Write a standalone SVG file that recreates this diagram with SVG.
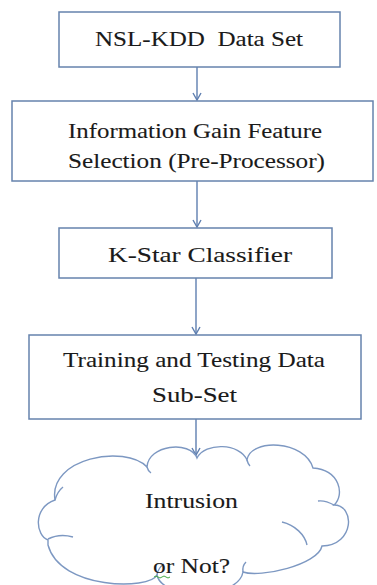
<svg xmlns="http://www.w3.org/2000/svg" width="377" height="585" viewBox="0 0 377 585" font-family="Liberation Serif, serif">
<defs>
<style>
.box{fill:#ffffff;stroke:#6683ad;stroke-width:1.5}
.lbl{font-family:'Liberation Serif',serif;font-size:22px;fill:#1a1a1a;stroke:#1a1a1a;stroke-width:0.1}
.c{stroke:#5f7fb0;stroke-width:1.4;fill:none}
.cloud{fill:#ffffff;stroke:#7d98c2;stroke-width:1.4}
.inner{fill:none;stroke:#7d98c2;stroke-width:1.4}
</style>
<marker id="ah" markerWidth="10" markerHeight="10" refX="8" refY="5" orient="auto" markerUnits="userSpaceOnUse">
<path d="M1,1 L8,5 L1,9" fill="none" stroke="#5f7fb0" stroke-width="1.4"/>
</marker>
</defs>
<rect width="377" height="585" fill="#ffffff"/>
<g id="connectors">
<line class="c" x1="197" y1="67" x2="197" y2="100" marker-end="url(#ah)"/>
<line class="c" x1="197" y1="181" x2="197" y2="227" marker-end="url(#ah)"/>
<line class="c" x1="196" y1="278" x2="196" y2="334" marker-end="url(#ah)"/>
<line class="c" x1="196" y1="419" x2="196" y2="455" marker-end="url(#ah)"/>
</g>
<g id="node1">
<rect class="box" x="59" y="12" width="281" height="55"/>
<text class="lbl" x="95" y="46" textLength="208" lengthAdjust="spacingAndGlyphs" xml:space="preserve">NSL-KDD  Data Set</text>
</g>
<g id="node2">
<rect class="box" x="12" y="101" width="361" height="80"/>
<text class="lbl" x="68" y="138" textLength="254" lengthAdjust="spacingAndGlyphs">Information Gain Feature</text>
<text class="lbl" x="68" y="168" textLength="257" lengthAdjust="spacingAndGlyphs">Selection (Pre-Processor)</text>
</g>
<g id="node3">
<rect class="box" x="59" y="228" width="273" height="50"/>
<text class="lbl" x="108" y="262" textLength="184" lengthAdjust="spacingAndGlyphs">K-Star Classifier</text>
</g>
<g id="node4">
<rect class="box" x="29" y="335" width="332" height="84"/>
<text class="lbl" x="63" y="367" textLength="262" lengthAdjust="spacingAndGlyphs">Training and Testing Data</text>
<text class="lbl" x="152" y="402" textLength="85" lengthAdjust="spacingAndGlyphs">Sub-Set</text>
</g>
<g id="node5">
<path class="cloud" d="M48,540 C36,536 32,508 55,500 C48,458 125,444 147,467 C148,445 190,440 197,458 C205,442 240,443 247,460 C250,438 305,440 313,468 C340,470 345,495 334,505 C355,505 355,545 322,546 C318,565 260,578 243,572 C238,600 162,600 157,575 C150,590 60,590 48,545 Z"/>
<path class="inner" d="M48,539 C56,535 66,535 73,537"/>
<path class="inner" d="M55,500 Q57,492 63,487"/>
<path class="inner" d="M147,467 Q148,471 151,473"/>
<path class="inner" d="M247,460 Q248,464 250,466"/>
<path class="inner" d="M334,505 Q325,500 318,501"/>
<path class="inner" d="M282,522 C295,525 305,535 307,545"/>
<path class="inner" d="M157,575 Q158,568 164,564"/>
<path class="inner" d="M243,572 Q242,566 246,562"/>
<text class="lbl" x="145" y="508" textLength="93" lengthAdjust="spacingAndGlyphs">Intrusion</text>
<text class="lbl" x="153" y="573" textLength="77" lengthAdjust="spacingAndGlyphs">or Not?</text>
<path d="M154,577 q2,-2 4,0 t4,0 t4,0 t4,0" fill="none" stroke="#44aa44" stroke-width="1"/>
</g>
</svg>
